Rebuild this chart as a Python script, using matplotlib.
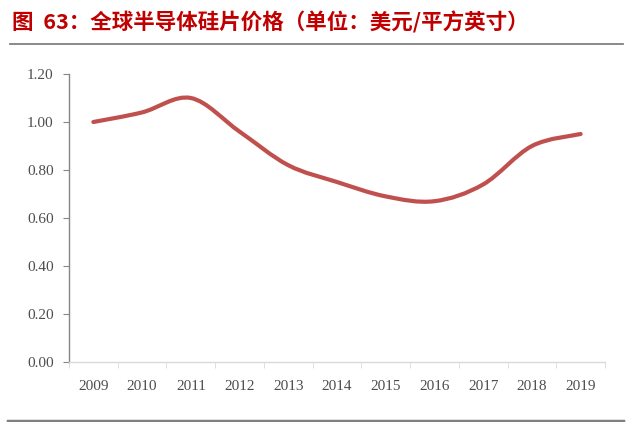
import numpy as np
import matplotlib
matplotlib.use('Agg')
import matplotlib.pyplot as plt
from matplotlib.path import Path
from matplotlib.patches import PathPatch
from matplotlib.lines import Line2D

years = ['2009', '2010', '2011', '2012', '2013', '2014', '2015', '2016', '2017', '2018', '2019']
price = [1.00, 1.04, 1.10, 0.96, 0.82, 0.75, 0.69, 0.67, 0.74, 0.90, 0.95]
y_ticks = [0.0, 0.2, 0.4, 0.6, 0.8, 1.0, 1.2]

title = '图  63：全球半导体硅片价格（单位：美元/平方英寸）'

W, H = 640, 422
fig = plt.figure(figsize=(W / 100, H / 100), dpi=100)

# axes box in pixel coords from the reference
left, right, top, bottom = 69, 605, 74, 362
ax = fig.add_axes([left / W, 1 - bottom / H, (right - left) / W, (bottom - top) / H])

# smooth line like excel: catmull-rom segments turned into cubic beziers
x = np.arange(len(price), dtype=float)
y = np.array(price)
verts = [(x[0], y[0])]
codes = [Path.MOVETO]
for i in range(len(x) - 1):
    p0 = np.array([x[max(i - 1, 0)], y[max(i - 1, 0)]])
    p1 = np.array([x[i], y[i]])
    p2 = np.array([x[i + 1], y[i + 1]])
    p3 = np.array([x[min(i + 2, len(x) - 1)], y[min(i + 2, len(x) - 1)]])
    c1 = p1 + (p2 - p0) / 6
    c2 = p2 - (p3 - p1) / 6
    verts += [tuple(c1), tuple(c2), tuple(p2)]
    codes += [Path.CURVE4] * 3
ax.add_patch(PathPatch(Path(verts, codes), facecolor='none', edgecolor='#C0504D',
                       lw=3, capstyle='round', joinstyle='round'))

ax.set_xlim(-0.5, len(years) - 0.5)
ax.set_ylim(0, 1.2)
ax.set_yticks(y_ticks)
ax.set_yticklabels(['%.2f' % v for v in y_ticks])
ax.set_xticks(x)
ax.set_xticklabels(years)
ax.set_xticks(np.arange(len(years) + 1) - 0.5, minor=True)

for s in ['top', 'right']:
    ax.spines[s].set_visible(False)
ax.spines['left'].set_color('#868686')
ax.spines['bottom'].set_color('#D9D9D9')
ax.spines['left'].set_linewidth(1)
ax.spines['bottom'].set_linewidth(1)

ax.tick_params(axis='x', which='major', length=0, pad=13)
ax.tick_params(axis='x', which='minor', length=4, color='#D9D9D9', direction='out')
ax.tick_params(axis='y', length=4, color='#868686', direction='out', pad=7)
for lab in ax.get_xticklabels() + ax.get_yticklabels():
    lab.set_fontfamily('Liberation Serif')
    lab.set_fontsize(11)
    lab.set_color('#4D4D4D')

fig.text(12 / W, 1 - 22 / H, title, color='#C00000', fontsize=15.5, fontweight='bold',
         family=['Noto Sans CJK SC', 'DejaVu Sans'], va='center', ha='left')

fig.add_artist(Line2D([10 / W, 623 / W], [1 - 43.5 / H, 1 - 43.5 / H], color='#808080', lw=1.3))
fig.add_artist(Line2D([8 / W, 623 / W], [1 - 420.5 / H, 1 - 420.5 / H], color='#808080', lw=2.5))

fig.savefig('out.png', dpi=100)
